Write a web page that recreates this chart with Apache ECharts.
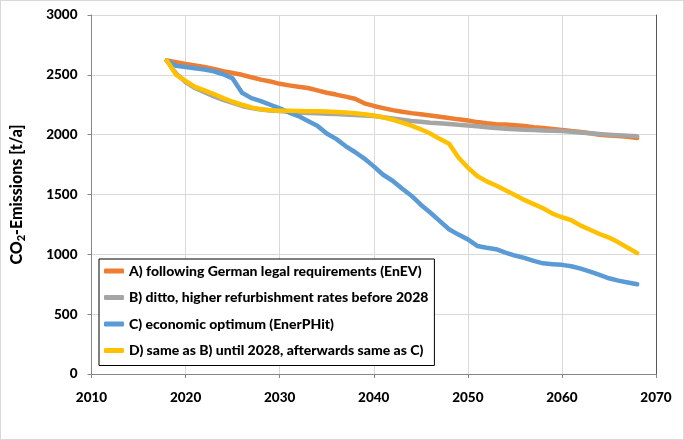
<!DOCTYPE html>
<html>
<head>
<meta charset="utf-8">
<script src="https://cdn.jsdelivr.net/npm/echarts@6/dist/echarts.min.js"></script>
<style>
html,body{margin:0;padding:0;background:#fff;}
#c{width:684px;height:440px;box-sizing:border-box;border:1px solid #d9d9d9;}
</style>
</head>
<body>
<div id="c"></div>
<script>
const years = [];
for (let y = 2018; y <= 2068; y++) years.push(y);

const seriesNames = [
  'A) following German legal requirements (EnEV)',
  'B) ditto, higher refurbishment rates before 2028',
  'C) economic optimum (EnerPHit)',
  'D) same as B) until 2028, afterwards same as C)'
];

const valuesA = [2620,2605,2590,2578,2565,2550,2530,2515,2500,2480,2460,2445,2425,2412,2400,2390,2370,2350,2335,2318,2300,2262,2240,2222,2205,2192,2180,2170,2160,2150,2140,2128,2118,2105,2095,2088,2085,2078,2072,2062,2055,2048,2040,2030,2022,2012,2000,1992,1988,1982,1972];
const valuesB = [2620,2510,2440,2390,2355,2320,2290,2265,2240,2222,2210,2202,2198,2192,2186,2182,2178,2175,2172,2168,2165,2160,2155,2145,2135,2125,2115,2108,2100,2095,2090,2082,2077,2070,2062,2056,2050,2046,2042,2040,2035,2032,2030,2025,2018,2012,2005,2000,1996,1992,1986];
const valuesC = [2620,2575,2565,2555,2545,2530,2505,2470,2350,2305,2280,2250,2220,2185,2155,2115,2075,2010,1965,1905,1855,1800,1735,1665,1615,1550,1490,1415,1350,1280,1210,1165,1125,1070,1055,1043,1015,990,970,945,925,918,912,900,880,855,828,800,780,765,750];
const valuesD = [2620,2500,2450,2400,2370,2340,2305,2275,2250,2228,2212,2205,2200,2200,2198,2196,2195,2193,2190,2185,2178,2170,2160,2145,2125,2100,2075,2045,2010,1965,1925,1810,1725,1655,1610,1575,1535,1495,1455,1420,1385,1340,1310,1285,1240,1205,1170,1140,1100,1055,1010];

const xTicks = [2010,2020,2030,2040,2050,2060,2070];
const yTicks = [0,500,1000,1500,2000,2500,3000];

const colors = ['#ED7D31','#A5A5A5','#5B9BD5','#FFC000'];
const allValues = [valuesA, valuesB, valuesC, valuesD];

const font = 'Lato, "Open Sans", sans-serif';

const chart = echarts.init(document.getElementById('c'), null, {renderer:'canvas'});
chart.setOption({
  animation:false,
  grid:{left:88, right:27, top:14, bottom:65},
  legend:{
    orient:'vertical', left:98, top:258,
    data:seriesNames,
    icon:'roundRect', itemWidth:20, itemHeight:5, itemGap:12.5,
    backgroundColor:'#fff', borderColor:'#000', borderWidth:1,
    padding:[5,6,8,5],
    textStyle:{fontFamily:font, fontWeight:900, fontSize:14, color:'#000'}
  },
  xAxis:{
    type:'value', min:2010, max:2070, interval:10,
    axisLine:{show:true, lineStyle:{color:'#868686', width:1}},
    axisTick:{show:true, length:4, lineStyle:{color:'#868686'}},
    splitLine:{show:true, lineStyle:{color:'#d9d9d9', width:1}},
    axisLabel:{margin:17, fontFamily:font, fontWeight:900, fontSize:13.5, color:'#000',
      formatter:v => xTicks.includes(v) ? String(v) : ''}
  },
  yAxis:[{
    type:'value', min:0, max:3000, interval:500,
    name:'CO{sub|2}-Emissions [t/a]', nameLocation:'middle', nameGap:65, nameRotate:90,
    nameTextStyle:{fontFamily:font, fontWeight:900, fontSize:16, color:'#000',
      rich:{sub:{fontFamily:font, fontWeight:900, fontSize:11, verticalAlign:'bottom', padding:[8,0,0,0]}}},
    axisLine:{show:true, lineStyle:{color:'#868686', width:1}},
    axisTick:{show:true, length:4, lineStyle:{color:'#868686'}},
    splitLine:{show:true, lineStyle:{color:'#d9d9d9', width:1}},
    axisLabel:{margin:14, fontFamily:font, fontWeight:900, fontSize:13.5, color:'#000',
      formatter:v => yTicks.includes(v) ? String(v) : ''}
  },{
    type:'value', min:0, max:3000, interval:500, position:'right',
    axisLine:{show:true, lineStyle:{color:'#595959', width:1}},
    axisTick:{show:false}, axisLabel:{show:false}, splitLine:{show:false}
  }],
  series: seriesNames.map((n,i) => ({
    name:n, type:'line', showSymbol:false, symbol:'none',
    data: years.map((y,k) => [y, allValues[i][k]]),
    lineStyle:{color:colors[i], width:4.5, cap:'round', join:'round'},
    itemStyle:{color:colors[i]}
  }))
});
</script>
</body>
</html>
